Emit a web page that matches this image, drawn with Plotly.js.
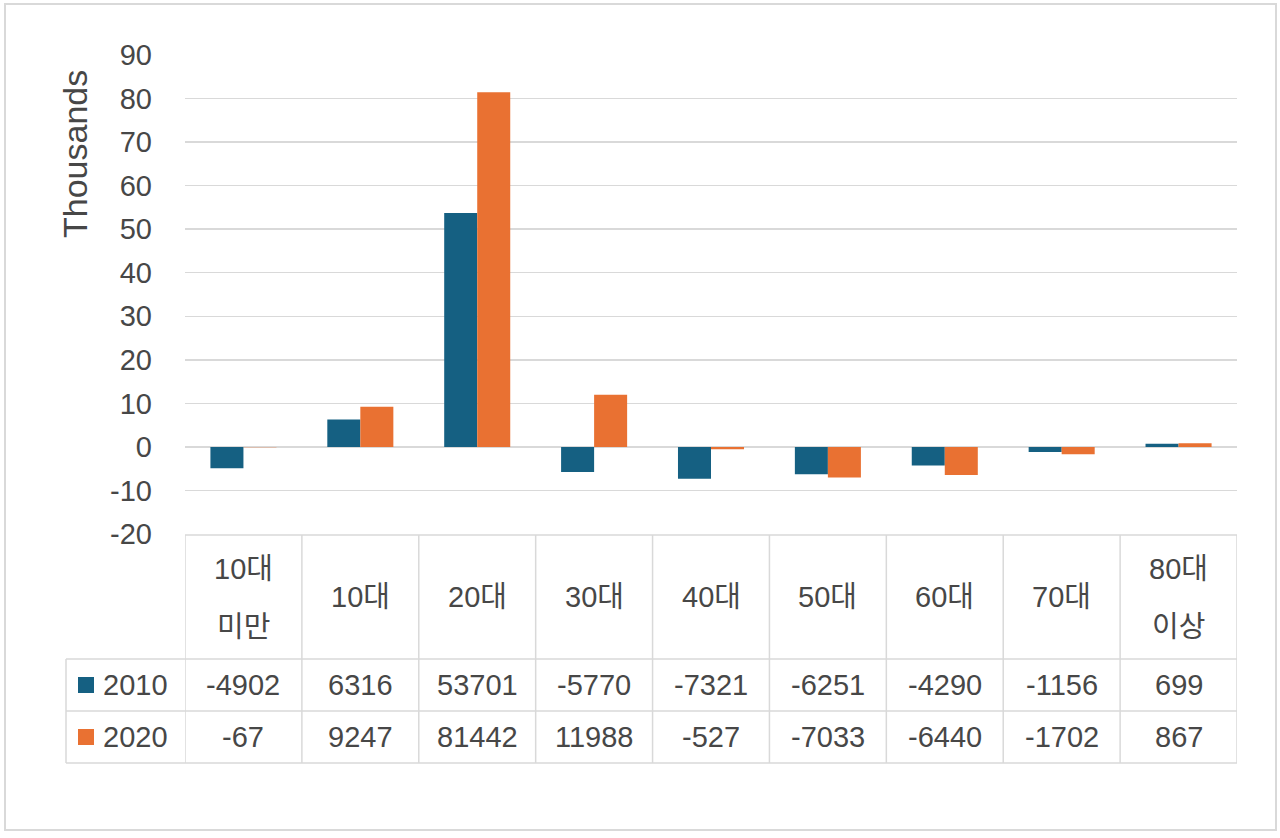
<!DOCTYPE html>
<html>
<head>
<meta charset="utf-8">
<script src="https://cdn.plot.ly/plotly-3.0.1.min.js"></script>
<style>
  html, body { margin: 0; padding: 0; background: #ffffff; }
  #chart { width: 1280px; height: 838px; }
</style>
</head>
<body>
<div id="chart"></div>
<script>
// ---- data ----
const categories = ['10대\n미만', '10대', '20대', '30대', '40대', '50대', '60대', '70대', '80대\n이상'];
const seriesNames = ['2010', '2020'];
const values2010 = [-4902, 6316, 53701, -5770, -7321, -6251, -4290, -1156, 699];
const values2020 = [-67, 9247, 81442, 11988, -527, -7033, -6440, -1702, 867];
const yTickValues = [-20, -10, 0, 10, 20, 30, 40, 50, 60, 70, 80, 90];
const yAxisTitle = 'Thousands';

// ---- styles ----
const colors = ['#156082', '#E97132'];
const textColor = '#474747';
const lineColor = '#d9d9d9';
const fontFamily = '"Liberation Sans", Arial, "Noto Sans CJK KR", sans-serif';
const fontSize = 29;

// ---- geometry (pixels) ----
const W = 1280, H = 838;
const M = { l: 185, r: 43, t: 55, b: 304 };
const plotW = W - M.l - M.r, plotH = H - M.t - M.b;
const fx = p => (p - M.l) / plotW;           // pixel x -> paper x
const fy = p => (H - M.b - p) / plotH;       // pixel y -> paper y

const tableTop = 535, headerBottom = 659, row1Bottom = 711, tableBottom = 763;
const tableLeft = 66;
const n = categories.length;
const xIdx = categories.map((c, i) => i);

const traces = [values2010, values2020].map((vals, k) => ({
  type: 'bar',
  name: seriesNames[k],
  x: xIdx,
  y: vals.map(v => v / 1000),
  marker: { color: colors[k], line: { width: 0 } },
  hoverinfo: 'x+y+name'
}));

const shapes = [];
const annotations = [];

// outer frame
shapes.push({ type: 'rect', xref: 'paper', yref: 'paper',
  x0: fx(5), x1: fx(1276), y0: fy(4), y1: fy(830),
  line: { color: lineColor, width: 2 }, fillcolor: 'rgba(0,0,0,0)', layer: 'below' });

// table horizontal lines
const hLine = (py, x0p) => shapes.push({ type: 'line', xref: 'paper', yref: 'paper',
  x0: fx(x0p), x1: 1, y0: fy(py), y1: fy(py), line: { color: lineColor, width: 1.5 } });
hLine(tableTop, M.l);
hLine(headerBottom, tableLeft);
hLine(row1Bottom, tableLeft);
hLine(tableBottom, tableLeft);
// table vertical lines
shapes.push({ type: 'line', xref: 'paper', yref: 'paper', x0: fx(tableLeft), x1: fx(tableLeft),
  y0: fy(headerBottom), y1: fy(tableBottom), line: { color: lineColor, width: 1.5 } });
for (let i = 0; i <= n; i++) {
  shapes.push({ type: 'line', xref: 'x', yref: 'paper', x0: i - 0.5, x1: i - 0.5,
    y0: fy(tableTop), y1: fy(tableBottom), line: { color: lineColor, width: 1.5 } });
}

const txt = (x, xref, py, text, anchor) => annotations.push({
  x: x, xref: xref, y: fy(py), yref: 'paper', text: text, showarrow: false,
  xanchor: anchor || 'center', yanchor: 'middle',
  font: { family: fontFamily, size: fontSize, color: textColor }
});

// header cells
categories.forEach((c, i) => {
  const lines = c.split('\n');
  if (lines.length === 1) {
    txt(i, 'x', 597, lines[0]);
  } else {
    txt(i, 'x', 569, lines[0]);
    txt(i, 'x', 627, lines[1]);
  }
});

// value rows with legend keys
const rowCenters = [685, 737];
[values2010, values2020].forEach((vals, k) => {
  const cy = rowCenters[k];
  shapes.push({ type: 'rect', xref: 'paper', yref: 'paper',
    x0: fx(78), x1: fx(94), y0: fy(cy - 8), y1: fy(cy + 8),
    fillcolor: colors[k], line: { width: 0 } });
  txt(fx(101), 'paper', cy, seriesNames[k], 'left');
  vals.forEach((v, i) => txt(i, 'x', cy, String(v)));
});

// y axis title (display units label, top aligned like Excel)
annotations.push({
  x: fx(75), xref: 'paper', y: fy(154), yref: 'paper', text: yAxisTitle,
  textangle: -90, showarrow: false, xanchor: 'center', yanchor: 'middle',
  font: { family: fontFamily, size: 34, color: textColor }
});

const layout = {
  width: W, height: H,
  margin: M,
  paper_bgcolor: '#ffffff', plot_bgcolor: '#ffffff',
  barmode: 'group', bargap: 0.435, bargroupgap: 0,
  showlegend: false,
  font: { family: fontFamily, size: fontSize, color: textColor },
  xaxis: {
    range: [-0.5, n - 0.5], showticklabels: false, showgrid: false,
    zeroline: false, showline: false, ticks: '', fixedrange: true
  },
  yaxis: {
    range: [-20, 90], tickvals: yTickValues, ticktext: yTickValues.map(String),
    showgrid: true, gridcolor: lineColor, gridwidth: 1.5,
    zeroline: true, zerolinecolor: lineColor, zerolinewidth: 1.5,
    showline: false, ticks: '', ticklabelstandoff: 32,
    tickfont: { family: fontFamily, size: fontSize, color: textColor },
    automargin: false, fixedrange: true
  },
  shapes: shapes,
  annotations: annotations
};

Plotly.newPlot('chart', traces, layout, { displayModeBar: false, staticPlot: true });
</script>
</body>
</html>
